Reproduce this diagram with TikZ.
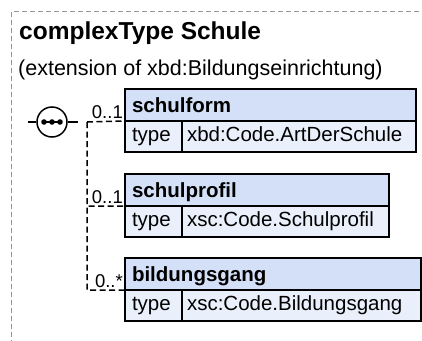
\documentclass[tikz,border=0pt]{standalone}
\usepackage{fontspec}
\setmainfont{Liberation Sans}
\usetikzlibrary{arrows}

\definecolor{hdrblue}{RGB}{212,224,247}
\definecolor{rowblue}{RGB}{234,240,251}
\definecolor{framegray}{RGB}{150,150,150}

\tikzset{
  hdr/.style={draw, line width=1.5pt, fill=hdrblue, anchor=north west, outer sep=0pt,
    inner xsep=7pt, inner ysep=0pt, minimum height=32pt, text height=14pt, text depth=0pt,
    align=left, font=\fontsize{20.5}{24}\selectfont\bfseries},
  keycell/.style={draw, line width=1.5pt, fill=rowblue, anchor=north west, outer sep=0pt,
    inner xsep=7pt, inner ysep=0pt, minimum height=31pt, text height=13pt, text depth=4pt,
    text width=43pt, align=left, font=\fontsize{20.5}{24}\selectfont},
  valcell/.style={keycell, inner xsep=5pt},
  mult/.style={anchor=base east, inner sep=0pt, font=\fontsize{18.5}{20}\selectfont},
  conn/.style={line width=1.5pt, dash pattern=on 6pt off 3.5pt},
  frame/.style={framegray, line width=1pt, dash pattern=on 5pt off 3pt}
}

\begin{document}
\begin{tikzpicture}[x=1pt, y=-1pt]
      \useasboundingbox (0,0) rectangle (422,340);
      \draw[frame] (11.5,345) |- (425,11.5);
      %%%%%%%%%%%%%%%%%%%%%%%%%%%%%%%%%%%%%%%%%%%%%%%
      \node[anchor=base west, inner sep=0pt, font=\fontsize{24.5}{28}\selectfont\bfseries] at (19,39.5) (title) {complexType Schule};
      \node[anchor=base west, inner sep=0pt, font=\fontsize{21.5}{26}\selectfont] at (18,75) (ext) {(extension of xbd:Bildungseinrichtung)};
      %%%%%%%%%%%%%%%%%%%%%%%%%%%%%%%%%%%%%%%%%%%%%%%
      \node[circle, draw, line width=1.5pt, fill=white, minimum size=30pt, inner sep=0pt] at (52,122) (seq) {};
      \coordinate (seqin)  at (28,122);
      \coordinate (seqout) at (78,122);
      \coordinate (fork)   at (87,122);
      \draw[line width=1.5pt] (seqin) -- (seq.west)
            (seq.east) -- (seqout);
      \draw[line width=1.5pt] (42,122) -- (62,122);
      \fill (44,122) circle (2.8) (52,122) circle (2.8) (60,122) circle (2.8);
      %%%%%%%%%%%%%%%%%%%%%%%%%%%%%%%%%%%%%%%%%%%%%%%
      \node[hdr, text width=277pt] at (125,89) (hform) {schulform};
      \node[keycell] at (hform.south west) (kform) {type};
      \node[valcell, text width=224pt] at (kform.north east) (vform) {xbd:Code.ArtDerSchule};
      %%%%%%%%%%%%%%%%%%%%%%%%%%%%%%%%%%%%%%%%%%%%%%%
      \node[hdr, text width=250pt] at (125,174) (hprof) {schulprofil};
      \node[keycell] at (hprof.south west) (kprof) {type};
      \node[valcell, text width=197pt] at (kprof.north east) (vprof) {xsc:Code.Schulprofil};
      %%%%%%%%%%%%%%%%%%%%%%%%%%%%%%%%%%%%%%%%%%%%%%%
      \node[hdr, text width=282pt] at (125,258) (hgang) {bildungsgang};
      \node[keycell] at (hgang.south west) (kgang) {type};
      \node[valcell, text width=229pt] at (kgang.north east) (vgang) {xsc:Code.Bildungsgang};
      %%%%%%%%%%%%%%%%%%%%%%%%%%%%%%%%%%%%%%%%%%%%%%%
      \draw[conn] (fork) -- (hform.south west)
            (fork) |- (hprof.south west)
            (fork) |- (hgang.south west);
      \node[mult] at (123,118.5) (mform) {0..1};
      \node[mult] at (123,203) (mprof) {0..1};
      \node[mult] at (123,287) (mgang) {0..*};
      %%%%%%%%%%%%%%%%%%%%%%%%%%%%%%%%%%%%%%%%%%%%%%%
\end{tikzpicture}
\end{document}
